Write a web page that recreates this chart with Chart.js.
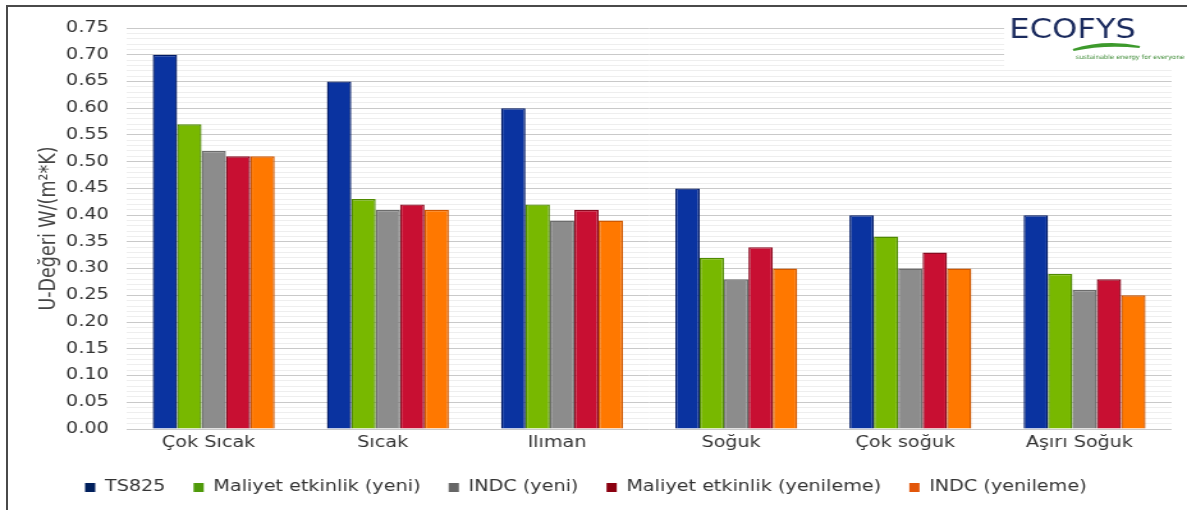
<!DOCTYPE html>
<html lang="tr">
<head>
<meta charset="utf-8">
<title>U-Değeri karşılaştırması</title>
<script src="https://cdn.jsdelivr.net/npm/chart.js@4.4.1/dist/chart.umd.min.js"></script>
<style>
  html, body { margin: 0; padding: 0; background: #fff; }
  #wrap { position: relative; width: 1187px; height: 510px; overflow: hidden; }
  #frame { position: absolute; left: 6px; top: 5px; right: -10px; bottom: -10px;
           border-left: 2px solid #4a4a4a; border-top: 2px solid #4a4a4a; pointer-events: none; }
  /* the chart is laid out on a narrower canvas and widened horizontally */
  #chart { position: absolute; left: 0; top: 0; transform-origin: 0 0; transform: scaleX(1.2791); }
</style>
</head>
<body>
<div id="wrap">
  <canvas id="chart" width="928" height="510"></canvas>
  <div id="frame"></div>
</div>
<script>
// Climate zones
const categories = ['Çok Sıcak', 'Sıcak', 'Ilıman', 'Soğuk', 'Çok soğuk', 'Aşırı Soğuk'];

// U-values, W/(m²*K)
const ts825           = [0.70, 0.65, 0.60, 0.45, 0.40, 0.40];
const maliyetYeni     = [0.57, 0.43, 0.42, 0.32, 0.36, 0.29];
const indcYeni        = [0.52, 0.41, 0.39, 0.28, 0.30, 0.26];
const maliyetYenileme = [0.51, 0.42, 0.41, 0.34, 0.33, 0.28];
const indcYenileme    = [0.51, 0.41, 0.39, 0.30, 0.30, 0.25];

const seriesNames = ['TS825', 'Maliyet etkinlik (yeni)', 'INDC (yeni)',
                     'Maliyet etkinlik (yenileme)', 'INDC (yenileme)'];

// Value axis: labelled every 0.05, light minor grid every 0.01
const yMin = 0;
const yMax = 0.75;
const majorStep = 0.05;
const minorStep = 0.01;

const FONT = "'DejaVu Sans', Verdana, sans-serif";
const fills   = ['#0a33a0', '#78b800', '#8c8c8c', '#c80f32', '#ff7800'];
const borders = ['#001a66', '#4f8a00', '#6c6c6c', '#8a0a20', '#cf5800'];
const swatch  = ['#001f5c', '#4f9a0a', '#666666', '#8b0010', '#e2560a'];

const seriesData = [ts825, maliyetYeni, indcYeni, maliyetYenileme, indcYenileme];

const isMajor = v => Math.round(v / minorStep) % Math.round(majorStep / minorStep) === 0;

// ECOFYS logo box in the upper right corner
const logoPlugin = {
  id: 'logo',
  afterDraw(chart) {
    const ctx = chart.ctx;
    ctx.save();
    ctx.fillStyle = '#ffffff';
    ctx.fillRect(785, 8, 143, 58);

    ctx.fillStyle = '#1b2b5e';
    ctx.font = "27px " + FONT;
    ctx.textBaseline = 'alphabetic';
    ctx.textAlign = 'left';
    const w = ctx.measureText('ECOFYS').width;
    ctx.save();
    ctx.translate(789, 38);
    ctx.scale(99 / w, 1);
    ctx.fillText('ECOFYS', 0, 0);
    ctx.restore();

    // green swoosh
    ctx.beginPath();
    ctx.moveTo(839, 50);
    ctx.quadraticCurveTo(864, 40, 891, 47);
    ctx.quadraticCurveTo(864, 43, 839, 50);
    ctx.lineWidth = 2.2;
    ctx.strokeStyle = '#3d9a2c';
    ctx.stroke();

    ctx.fillStyle = '#3c8a34';
    ctx.font = "6px " + FONT;
    const tw = ctx.measureText('sustainable energy for everyone').width;
    ctx.translate(841, 59);
    ctx.scale(85 / tw, 1);
    ctx.fillText('sustainable energy for everyone', 0, 0);
    ctx.restore();
  }
};

new Chart(document.getElementById('chart'), {
  type: 'bar',
  data: {
    labels: categories,
    datasets: seriesNames.map((name, i) => ({
      label: name,
      data: seriesData[i],
      backgroundColor: fills[i],
      borderColor: borders[i],
      borderWidth: 1.4,
      categoryPercentage: 0.70,
      barPercentage: 1.0
    }))
  },
  options: {
    responsive: false,
    animation: false,
    devicePixelRatio: 1,
    layout: { padding: { left: 0, top: 28, right: 12, bottom: 5 } },
    plugins: {
      tooltip: { enabled: false },
      legend: {
        position: 'bottom',
        labels: {
          font: { family: FONT, size: 15 },
          color: '#333333',
          boxWidth: 8,
          boxHeight: 9,
          padding: 22,
          generateLabels(chart) {
            return chart.data.datasets.map((ds, i) => ({
              text: ds.label,
              fillStyle: swatch[i],
              strokeStyle: swatch[i],
              lineWidth: 0,
              hidden: false,
              datasetIndex: i,
              fontColor: '#333333'
            }));
          }
        }
      }
    },
    scales: {
      x: {
        grid: { display: false, drawTicks: false },
        border: { display: false },
        afterFit(scale) { scale.height = 29; },
        ticks: {
          font: { family: FONT, size: 15 },
          color: '#333333',
          padding: 5,
          labelOffset: -4,
          maxRotation: 0
        }
      },
      y: {
        min: yMin,
        max: yMax,
        afterBuildTicks(scale) {
          const n = Math.round((yMax - yMin) / minorStep);
          const ticks = [];
          for (let i = 0; i <= n; i++) ticks.push({ value: +(yMin + i * minorStep).toFixed(2) });
          scale.ticks = ticks;
        },
        afterFit(scale) { scale.width = 99; },
        grid: {
          drawTicks: false,
          color: c => (c.tick && isMajor(c.tick.value)) ? '#c9c9c9' : '#eeeeee',
          lineWidth: 1
        },
        border: { display: false },
        ticks: {
          autoSkip: false,
          padding: 14,
          font: { family: FONT, size: 15 },
          color: '#333333',
          callback: v => isMajor(v) ? v.toFixed(2) : ''
        },
        title: {
          display: true,
          text: 'U-Değeri W/(m²*K)',
          font: { family: FONT, size: 17.5 },
          color: '#444444',
          padding: { top: 27.5, bottom: 0 }
        }
      }
    }
  },
  plugins: [logoPlugin]
});
</script>
</body>
</html>
